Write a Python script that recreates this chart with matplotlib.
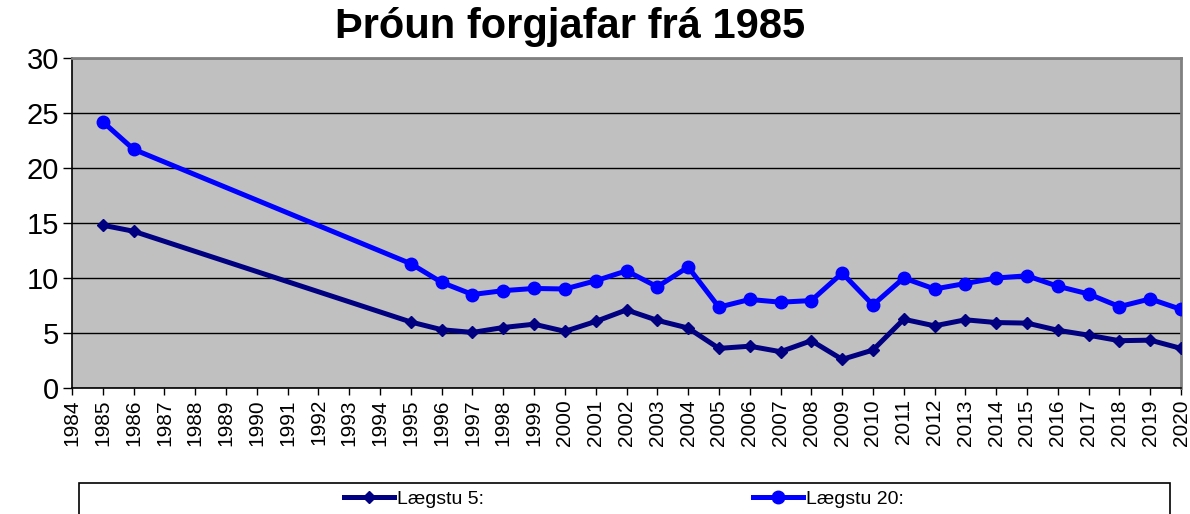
import matplotlib
matplotlib.use("Agg")
import matplotlib.pyplot as plt
import matplotlib.patches as mpatches
import numpy as np

plt.rcParams["font.family"] = ["Liberation Sans", "DejaVu Sans"]

# Data (gaps in the years are simply joined by the line)
years = [1985, 1986, 1995, 1996, 1997, 1998, 1999, 2000, 2001, 2002, 2003,
         2004, 2005, 2006, 2007, 2008, 2009, 2010, 2011, 2012, 2013, 2014,
         2015, 2016, 2017, 2018, 2019, 2020]
laegstu_5 = [14.8, 14.25, 6.0, 5.3, 5.05, 5.5, 5.8, 5.15, 6.05, 7.1, 6.15,
             5.45, 3.6, 3.8, 3.3, 4.3, 2.6, 3.45, 6.25, 5.65, 6.2, 5.95,
             5.9, 5.25, 4.8, 4.3, 4.35, 3.6]
laegstu_20 = [24.2, 21.7, 11.3, 9.6, 8.5, 8.85, 9.05, 9.0, 9.75, 10.65, 9.2,
              11.0, 7.35, 8.05, 7.8, 7.95, 10.45, 7.55, 10.0, 9.0, 9.5, 10.0,
              10.2, 9.25, 8.55, 7.4, 8.1, 7.15]
tick_years = list(range(1984, 2021))
y_ticks = [0, 5, 10, 15, 20, 25, 30]

W, H = 1190, 514
fig = plt.figure(figsize=(W / 100, H / 100), dpi=100)
ax = fig.add_axes([72 / W, 1 - 388 / H, (1181 - 72) / W, (388 - 58) / H])
ax.set_facecolor("#c0c0c0")

ax.plot(years, laegstu_5, color="#000080", lw=3.6, marker="D", ms=6,
        label="Lægstu 5:", zorder=3)
ax.plot(years, laegstu_20, color="#0000ff", lw=3.6, marker="o", ms=9,
        label="Lægstu 20:", zorder=4)

ax.set_xlim(1984, 2020)
ax.set_ylim(0, 30)
ax.set_yticks(y_ticks)
ax.set_xticks(tick_years)
ax.set_xticklabels([str(y) for y in tick_years], rotation=90, fontsize=15)
ax.tick_params(axis="y", labelsize=21, direction="out", length=6.5, width=1,
               pad=3)
ax.tick_params(axis="x", direction="out", length=5, width=1, pad=3)
ax.yaxis.grid(True, color="black", lw=1)
ax.set_axisbelow(True)

for s in ("left", "bottom"):
    ax.spines[s].set_color("black")
    ax.spines[s].set_linewidth(1.2)
for s in ("top", "right"):
    ax.spines[s].set_color("#808080")
    ax.spines[s].set_linewidth(2)

fig.text(570 / W, 1 - 27 / H, "Þróun forgjafar frá 1985", ha="center",
         va="center", fontsize=30, fontweight="bold")

# legend box (runs off the bottom edge)
fig.patches.append(mpatches.Rectangle((79 / W, -0.05), (1170 - 79) / W,
                                      0.05 + (1 - 483 / H),
                                      transform=fig.transFigure,
                                      facecolor="white", edgecolor="black",
                                      lw=1.2))
fig.legend(loc="center", bbox_to_anchor=(624 / W, 1 - 499 / H), ncol=2,
           frameon=False, fontsize=14, handlelength=2.6, handletextpad=0.15,
           columnspacing=13.8, borderaxespad=0)

fig.savefig("out.png", dpi=100)
